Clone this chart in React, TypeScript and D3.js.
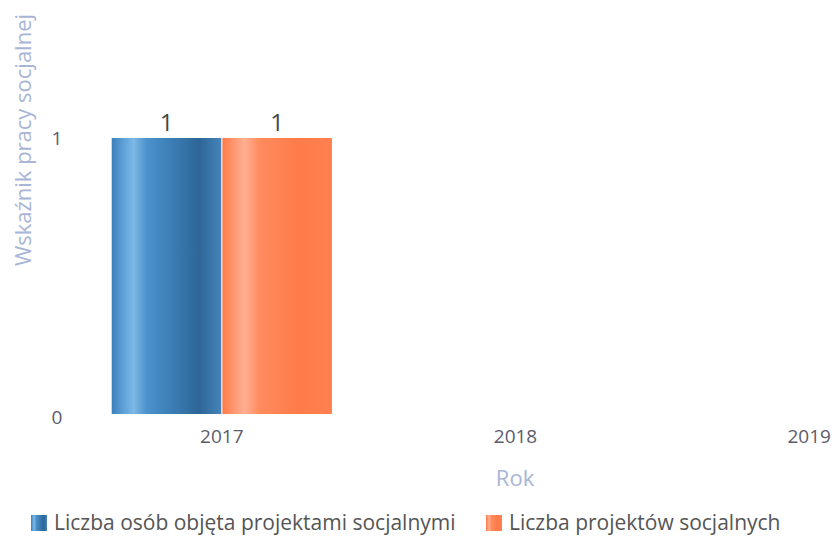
import React, { useRef, useEffect } from "react";
import * as d3 from "d3";

const years = ["2017", "2018", "2019"];
const seriesNames = ["Liczba osób objęta projektami socjalnymi", "Liczba projektów socjalnych"];
const personsValues: (number | null)[] = [1, null, null];
const projectsValues: (number | null)[] = [1, null, null];
const yTicks = [0, 1];

const gradients = [
  { id: "gBlue", stops: [["0%", "#3a80bb"], ["10%", "#5d9fd6"], ["20%", "#7cb8e6"], ["32%", "#4d92cb"], ["55%", "#3b7db4"], ["80%", "#2e6696"], ["100%", "#4584b9"]] },
  { id: "gOrange", stops: [["0%", "#ff7a46"], ["10%", "#ff9670"], ["20%", "#ffaf92"], ["34%", "#ff8b5f"], ["70%", "#ff7b49"], ["100%", "#ff8050"]] },
];

const App = () => {
  const ref = useRef<HTMLDivElement>(null);

  useEffect(() => {
    const width = 837;
    const height = 537;
    const font = "'Open Sans', sans-serif";
    const tickColor = "#5c5c6c";
    const titleColor = "#a9b5d6";

    const svg = d3.create("svg")
      .attr("width", width)
      .attr("height", height)
      .attr("viewBox", [0, 0, width, height])
      .style("position", "absolute")
      .style("left", "0px")
      .style("top", "0px")
      .style("background", "#fff");

    const defs = svg.append("defs");
    gradients.forEach(g => {
      const lg = defs.append("linearGradient").attr("id", g.id)
        .attr("x1", "0%").attr("x2", "100%").attr("y1", "0%").attr("y2", "0%");
      g.stops.forEach(([o, c]) => lg.append("stop").attr("offset", o).attr("stop-color", c));
    });

    const x0 = d3.scaleBand().domain(years).range([75, 956]).paddingInner(0.25).paddingOuter(0.125);
    const x1 = d3.scaleBand().domain(["0", "1"]).range([0, x0.bandwidth()]).paddingInner(0.01);
    const y = d3.scaleLinear().domain([0, 1]).range([414, 138]);

    const series = [personsValues, projectsValues];

    // y ticks
    svg.append("g").selectAll("text").data(yTicks).join("text")
      .attr("x", 57).attr("y", d => y(d) + (d === 0 ? 3 : 0))
      .attr("dy", "0.35em").attr("text-anchor", "middle")
      .attr("fill", tickColor).style("font", `19px ${font}`)
      .text(d => d);

    // y title
    svg.append("text")
      .attr("transform", "translate(23,140) rotate(-90)")
      .attr("dy", "0.35em").attr("text-anchor", "middle")
      .attr("fill", titleColor).style("font", `22px ${font}`)
      .text("Wskaźnik pracy socjalnej");

    // bars
    series.forEach((vals, si) => {
      const g = svg.append("g");
      const data = years.map((yr, i) => ({ yr, v: vals[i] })).filter(d => d.v != null) as { yr: string; v: number }[];
      g.selectAll("rect").data(data).join("rect")
        .attr("x", d => (x0(d.yr) as number) + (x1(String(si)) as number))
        .attr("y", d => y(d.v))
        .attr("width", x1.bandwidth())
        .attr("height", d => y(0) - y(d.v))
        .attr("fill", `url(#${gradients[si].id})`);
      g.selectAll("text").data(data).join("text")
        .attr("x", d => (x0(d.yr) as number) + (x1(String(si)) as number) + x1.bandwidth() / 2)
        .attr("y", d => y(d.v) - 7)
        .attr("text-anchor", "middle")
        .attr("fill", "#444").style("font", `24px ${font}`)
        .text(d => d.v);
    });

    // x ticks
    svg.append("g").selectAll("text").data(years).join("text")
      .attr("x", d => (x0(d) as number) + x0.bandwidth() / 2)
      .attr("y", 436).attr("dy", "0.35em").attr("text-anchor", "middle")
      .attr("fill", tickColor).style("font", `19px ${font}`)
      .text(d => d);

    svg.append("text")
      .attr("x", 515).attr("y", 478).attr("dy", "0.35em").attr("text-anchor", "middle")
      .attr("fill", titleColor).style("font", `22px ${font}`)
      .text("Rok");

    // legend
    const legendX = [31, 486];
    seriesNames.forEach((name, i) => {
      const lg = svg.append("g").attr("transform", `translate(${legendX[i]},515)`);
      lg.append("rect").attr("width", 16).attr("height", 16).attr("fill", `url(#${gradients[i].id})`);
      lg.append("text").attr("x", 23).attr("y", 8).attr("dy", "0.35em")
        .attr("fill", "#555").style("font", `21px ${font}`)
        .text(name);
    });

    if (ref.current) {
      ref.current.innerHTML = "";
      ref.current.appendChild(svg.node() as SVGSVGElement);
    }
  }, []);

  return <div ref={ref} />;
};

export default App;
